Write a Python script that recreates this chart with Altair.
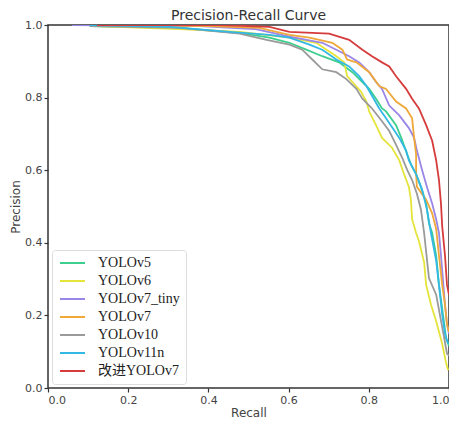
import altair as alt
import pandas as pd

models = ["YOLOv5", "YOLOv6", "YOLOv7_tiny", "YOLOv7", "YOLOv10", "YOLOv11n", "改进YOLOv7"]
colors = ["#3ccf8e", "#e4e43a", "#9a86e6", "#f0a838", "#9a9a9a", "#33b8e6", "#d63c3c"]

# recall / precision pairs
v5_r = [0.104, 0.328, 0.478, 0.552, 0.602, 0.644, 0.684, 0.726, 0.759, 0.784, 0.801, 0.818, 0.833, 0.843, 0.868, 0.881, 0.896, 0.905, 0.918, 0.930, 0.943, 0.950, 0.958, 0.968, 0.975, 0.985, 0.993, 1.0]
v5_p = [0.997, 0.992, 0.978, 0.965, 0.951, 0.932, 0.914, 0.897, 0.870, 0.843, 0.824, 0.797, 0.770, 0.762, 0.724, 0.689, 0.643, 0.616, 0.589, 0.554, 0.508, 0.454, 0.427, 0.365, 0.284, 0.203, 0.135, 0.116]

v6_r = [0.117, 0.328, 0.478, 0.602, 0.669, 0.719, 0.739, 0.746, 0.759, 0.781, 0.794, 0.801, 0.818, 0.833, 0.858, 0.876, 0.888, 0.900, 0.905, 0.908, 0.918, 0.925, 0.938, 0.943, 0.955, 0.968, 0.983, 0.993, 0.998]
v6_p = [0.997, 0.989, 0.981, 0.965, 0.951, 0.914, 0.897, 0.859, 0.843, 0.816, 0.789, 0.762, 0.724, 0.689, 0.662, 0.627, 0.589, 0.554, 0.519, 0.465, 0.427, 0.405, 0.346, 0.284, 0.230, 0.184, 0.122, 0.068, 0.049]

v7t_r = [0.060, 0.378, 0.515, 0.602, 0.684, 0.719, 0.751, 0.776, 0.801, 0.818, 0.833, 0.851, 0.876, 0.900, 0.913, 0.920, 0.933, 0.945, 0.958, 0.968, 0.975, 0.980, 0.985, 0.990, 0.995, 1.0]
v7t_p = [1.0, 0.997, 0.989, 0.968, 0.951, 0.932, 0.914, 0.897, 0.870, 0.843, 0.824, 0.778, 0.751, 0.716, 0.689, 0.654, 0.600, 0.554, 0.508, 0.465, 0.427, 0.365, 0.297, 0.230, 0.176, 0.149]

v7_r = [0.122, 0.403, 0.527, 0.602, 0.652, 0.709, 0.734, 0.746, 0.769, 0.801, 0.826, 0.843, 0.868, 0.893, 0.908, 0.913, 0.918, 0.918, 0.920, 0.943, 0.958, 0.968, 0.975, 0.983, 0.990, 0.995, 1.0]
v7_p = [1.0, 0.997, 0.992, 0.973, 0.965, 0.951, 0.932, 0.905, 0.897, 0.870, 0.832, 0.824, 0.789, 0.770, 0.743, 0.689, 0.643, 0.589, 0.554, 0.519, 0.481, 0.438, 0.365, 0.284, 0.230, 0.176, 0.154]

v10_r = [0.104, 0.328, 0.478, 0.545, 0.602, 0.634, 0.659, 0.684, 0.719, 0.744, 0.769, 0.784, 0.801, 0.808, 0.833, 0.851, 0.868, 0.883, 0.896, 0.908, 0.920, 0.930, 0.938, 0.950, 0.968, 0.983, 0.995, 1.0]
v10_p = [0.997, 0.992, 0.976, 0.959, 0.946, 0.932, 0.905, 0.878, 0.870, 0.851, 0.824, 0.797, 0.778, 0.770, 0.735, 0.708, 0.670, 0.635, 0.600, 0.573, 0.535, 0.492, 0.427, 0.303, 0.257, 0.168, 0.095, 0.089]

v11_r = [0.104, 0.303, 0.453, 0.552, 0.602, 0.652, 0.684, 0.719, 0.751, 0.776, 0.794, 0.808, 0.826, 0.843, 0.851, 0.876, 0.893, 0.900, 0.918, 0.933, 0.945, 0.955, 0.968, 0.975, 0.983, 0.990, 0.998]
v11_p = [1.0, 0.995, 0.981, 0.973, 0.965, 0.946, 0.932, 0.905, 0.886, 0.859, 0.832, 0.805, 0.770, 0.743, 0.730, 0.689, 0.654, 0.627, 0.589, 0.546, 0.492, 0.427, 0.351, 0.284, 0.203, 0.149, 0.122]

imp_r = [0.122, 0.428, 0.552, 0.602, 0.701, 0.751, 0.784, 0.808, 0.833, 0.851, 0.868, 0.893, 0.908, 0.925, 0.943, 0.958, 0.968, 0.975, 0.980, 0.983, 0.990, 0.995, 1.0]
imp_p = [1.0, 1.0, 0.995, 0.981, 0.976, 0.959, 0.932, 0.914, 0.897, 0.886, 0.859, 0.824, 0.797, 0.770, 0.724, 0.681, 0.627, 0.573, 0.508, 0.446, 0.365, 0.284, 0.257]

series = [(v5_r, v5_p), (v6_r, v6_p), (v7t_r, v7t_p), (v7_r, v7_p),
          (v10_r, v10_p), (v11_r, v11_p), (imp_r, imp_p)]

rows = []
for name, (rs, ps) in zip(models, series):
    for i, (r, p) in enumerate(zip(rs, ps)):
        rows.append({"model": name, "recall": r, "precision": p, "idx": i})
df = pd.DataFrame(rows)

ticks = [0, 0.2, 0.4, 0.6, 0.8, 1.0]

chart = alt.Chart(df).mark_line(strokeWidth=1.8, clip=True).encode(
    x=alt.X("recall:Q", title="Recall",
            scale=alt.Scale(domain=[0, 1], nice=False, zero=False),
            axis=alt.Axis(values=ticks, format=".1f")),
    y=alt.Y("precision:Q", title="Precision",
            scale=alt.Scale(domain=[0, 1], nice=False, zero=False),
            axis=alt.Axis(values=ticks, format=".1f")),
    color=alt.Color("model:N", sort=models,
                    scale=alt.Scale(domain=models, range=colors),
                    legend=alt.Legend(
                        title=None, orient="bottom-left", offset=4,
                        symbolType="M-1,0H4", symbolSize=100, symbolStrokeWidth=2,
                        labelOffset=26, rowPadding=4,
                        labelFont="Liberation Serif, Noto Sans CJK SC", labelFontSize=14,
                        labelColor="#222",
                        fillColor="white", strokeColor="#dddddd", cornerRadius=3,
                        padding=6)),
    order=alt.Order("idx:Q"),
).properties(
    width=401, height=363,
    autosize=alt.AutoSizeParams(type="none"),
    padding={"left": 40, "top": 17, "right": 0, "bottom": 30},
    title=alt.TitleParams("Precision-Recall Curve", fontSize=14, fontWeight="normal",
                          font="DejaVu Sans", color="#333", offset=-4),
).configure_view(
    stroke="#333", strokeWidth=1.5
).configure_axis(
    grid=False, domain=False, tickColor="#333", tickSize=4, tickWidth=1.2,
    labelFont="DejaVu Sans", labelFontSize=11, labelColor="#444",
    titleFont="DejaVu Sans", titleFontSize=12, titleFontWeight="normal", titleColor="#444",
    labelPadding=2, titlePadding=2
)

chart.save("out.html", embed_options={"renderer": "svg", "actions": False})
